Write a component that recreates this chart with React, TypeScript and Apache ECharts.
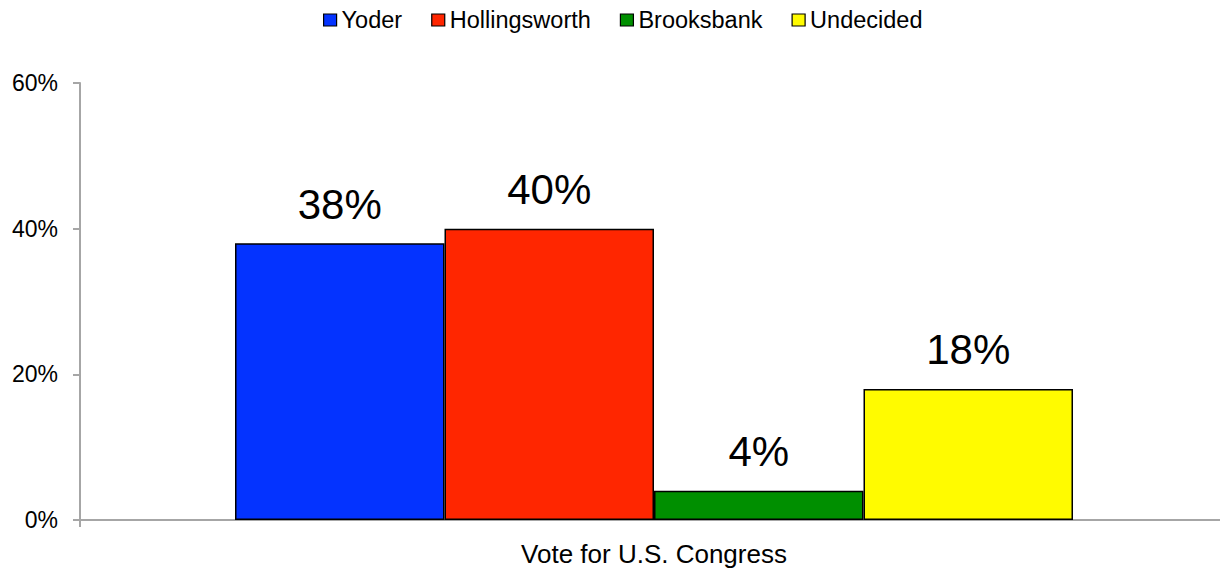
import React, { useEffect, useRef } from "react";
import * as echarts from "echarts";

const categories = ["Vote for U.S. Congress"];
const seriesNames = ["Yoder", "Hollingsworth", "Brooksbank", "Undecided"];
const seriesValues = [[38], [40], [4], [18]];
const seriesColors = ["#0433FF", "#FF2600", "#008F00", "#FFFB00"];
const yTicks = { min: 0, max: 60, interval: 20 };

export default function App() {
  const ref = useRef<HTMLDivElement>(null);
  useEffect(() => {
    if (!ref.current) return;
    const chart = echarts.init(ref.current, null, { renderer: "svg" });
    const font = "'Liberation Sans', Arial, Helvetica, sans-serif";
    chart.setOption({
      animation: false,
      textStyle: { fontFamily: font },
      legend: {
        top: 3,
        left: 318,
        itemWidth: 13,
        itemHeight: 12,
        itemGap: 29,
        icon: "rect",
        itemStyle: { borderColor: "#000", borderWidth: 1.2 },
        textStyle: { fontSize: 23.5, color: "#000", fontFamily: font },
        data: seriesNames,
      },
      grid: { left: 80, right: 0, top: 83, bottom: 50, containLabel: false },
      xAxis: {
        type: "category",
        data: categories,
        axisLine: { lineStyle: { color: "#A6A6A6", width: 2 } },
        axisTick: { show: true, length: 7, lineStyle: { color: "#A6A6A6", width: 2 } },
        axisLabel: { fontSize: 26, color: "#000", margin: 21, fontFamily: font },
      },
      yAxis: {
        type: "value",
        min: yTicks.min,
        max: yTicks.max,
        interval: yTicks.interval,
        splitLine: { show: false },
        axisLine: { show: true, lineStyle: { color: "#A6A6A6", width: 2 } },
        axisTick: { show: true, length: 7, lineStyle: { color: "#A6A6A6", width: 2 } },
        axisLabel: { fontSize: 23, color: "#000", margin: 22, formatter: "{value}%", fontFamily: font },
      },
      series: seriesNames.map((name, i) => ({
        name,
        type: "bar",
        data: seriesValues[i],
        barWidth: 209.5,
        barGap: "0%",
        itemStyle: { color: seriesColors[i], borderColor: "#000", borderWidth: 1.5 },
        label: {
          show: true,
          position: "top",
          distance: 18,
          formatter: "{c}%",
          fontSize: 42,
          color: "#000",
          fontFamily: font,
        },
      })),
    });
    return () => chart.dispose();
  }, []);
  return (
    <div style={{ position: "fixed", left: 0, top: 0, width: 1220, height: 570, overflow: "hidden", background: "#fff" }}>
      <div ref={ref} style={{ position: "absolute", left: 0, top: 0, width: 1228, height: 570 }} />
    </div>
  );
}
